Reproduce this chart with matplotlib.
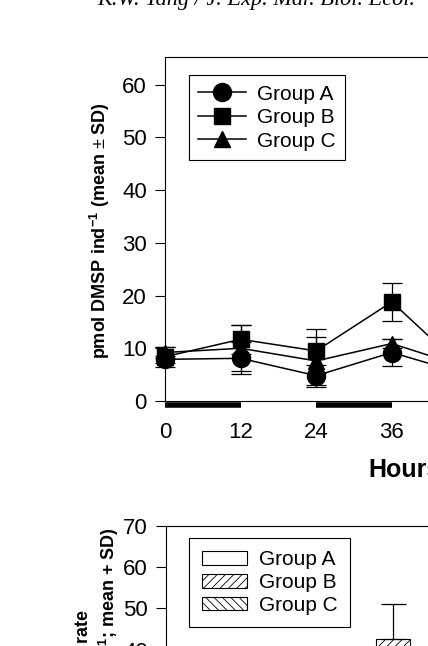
import matplotlib
matplotlib.use("Agg")
import matplotlib.pyplot as plt

# DMSP content per individual (top panel)
HOURS = [0, 12, 24, 36, 48]
DMSP_A = [7.9, 8.1, 4.8, 9.2, 5.0]
SD_A = [0.6, 3.0, 2.1, 2.5, 1.5]
DMSP_B = [8.4, 11.7, 9.5, 18.8, 5.5]
SD_B = [1.9, 2.8, 4.1, 3.6, 1.5]
DMSP_C = [9.2, 10.0, 7.6, 10.9, 6.3]
SD_C = [1.0, 4.4, 4.5, 0.8, 1.5]

# dark periods drawn under the time axis
DARK_START = [0, 24, 48]
DARK_END = [12, 36, 60]

# rates (bottom panel), only Group B at 36 h reaches the visible part
BAR_HOURS = [12, 24, 36, 48]
RATE_A = [18, 22, 30, 20]
RATE_A_SD = [4, 5, 5, 4]
RATE_B = [25, 28, 42.5, 26]
RATE_B_SD = [5, 6, 8.5, 5]
RATE_C = [20, 24, 33, 22]
RATE_C_SD = [4, 5, 5, 4]

GROUPS = ["Group A", "Group B", "Group C"]

plt.rcParams["font.family"] = ["Liberation Sans", "DejaVu Sans"]
plt.rcParams["mathtext.fontset"] = "custom"
plt.rcParams["mathtext.rm"] = "Liberation Sans"
plt.rcParams["mathtext.bf"] = "Liberation Sans:bold"
plt.rcParams["hatch.linewidth"] = 0.6
plt.rcParams["axes.linewidth"] = 0.8

W, H = 428, 646
fig = plt.figure(figsize=(W / 100, H / 100), dpi=100)

px_per_h = 75.6 / 12


def unclip(container):
    for art in container.get_children():
        art.set_clip_on(False)


# ---------- top panel ----------
ax1 = fig.add_axes([165 / W, (H - 401) / H, 72 * px_per_h / W, 343.7 / H])
ax1.set_xlim(0, 72)
ax1.set_ylim(0, 65.2)

styles = [("o", 13), ("s", 11.5), ("^", 11.5)]
series = [(DMSP_A, SD_A), (DMSP_B, SD_B), (DMSP_C, SD_C)]
handles = []
for (vals, sds), (mk, ms), name in zip(series, styles, GROUPS):
    eb = ax1.errorbar(HOURS, vals, yerr=sds, marker=mk, ms=ms, color="black",
                      lw=1.1, elinewidth=0.9, capsize=7.2, capthick=0.9,
                      label=name)
    unclip(eb)
    handles.append(eb.lines[0])

for s, e in zip(DARK_START, DARK_END):
    ax1.hlines(-0.8, s, e, color="black", lw=4.0, clip_on=False)

ax1.set_yticks(range(0, 61, 10))
ax1.set_xticks([0, 12, 24, 36, 48, 60, 72])
ax1.tick_params(axis="y", direction="out", length=7, width=0.8, pad=6,
                labelsize=16)
ax1.tick_params(axis="x", direction="out", length=0, pad=15, labelsize=16)

ax1.set_xlabel("Hours", fontsize=18, fontweight="bold")
ax1.xaxis.set_label_coords((405 - 165) / (72 * px_per_h), -0.166)

fig.text(99.5 / W, 1 - 231 / H,
         r"pmol DMSP ind$^{\mathbf{-1}}$ (mean $\pm$ SD)",
         rotation=90, ha="center", va="center", fontsize=13,
         fontweight="bold")

leg1 = ax1.legend(handles, GROUPS, loc="upper left",
                  bbox_to_anchor=(0.053, 0.948), borderaxespad=0,
                  fontsize=15, handlelength=2.3, handletextpad=0.5,
                  labelspacing=0.22, borderpad=0.45, numpoints=1,
                  fancybox=False, framealpha=1, edgecolor="black")
leg1.get_frame().set_linewidth(0.8)

# ---------- bottom panel ----------
ax2 = fig.add_axes([166 / W, (H - 815) / H, 72 * px_per_h / W, 289.3 / H])
ax2.set_xlim(0, 72)
ax2.set_ylim(0, 70)

bw = 34 / px_per_h
bar_sets = [(RATE_A, RATE_A_SD, "", -bw), (RATE_B, RATE_B_SD, "////", 0),
            (RATE_C, RATE_C_SD, "\\\\\\\\", bw)]
for (vals, sds, hatch, off), name in zip(bar_sets, GROUPS):
    xs = [h + off for h in BAR_HOURS]
    ax2.bar(xs, vals, width=bw, color="white", edgecolor="black", lw=0.8,
            hatch=hatch, label=name)
    ax2.errorbar(xs, vals, yerr=[[0] * len(sds), sds], fmt="none",
                 ecolor="black", elinewidth=0.9, capsize=9, capthick=0.9)

ax2.set_yticks(range(0, 71, 10))
ax2.tick_params(axis="y", direction="out", length=7, width=0.8, pad=6,
                labelsize=16)

leg2 = ax2.legend(loc="upper left", bbox_to_anchor=(0.051, 0.958),
                  borderaxespad=0, fontsize=15, handlelength=2.2,
                  handleheight=0.65, handletextpad=0.55, labelspacing=0.18,
                  borderpad=0.6, fancybox=False, framealpha=1,
                  edgecolor="black")
leg2.get_frame().set_linewidth(0.8)

fig.text(84 / W, 1 - 610 / H, "Ingestion rate", rotation=90, ha="center",
         va="top", fontsize=13, fontweight="bold")
fig.text(109 / W, 1 - 527 / H,
         r"(pmol DMSP ind$^{\mathbf{-1}}$ d$^{\mathbf{-1}}$; mean + SD)",
         rotation=90, ha="center", va="top", fontsize=13, fontweight="bold")

# running header, cut by the page crop
fig.text(97 / W, 1 - 5 / H, "K.W. Tang / J. Exp. Mar. Biol. Ecol.",
         family="Liberation Serif", style="italic", fontsize=16,
         ha="left", va="baseline")

fig.savefig("out.png", dpi=100)
